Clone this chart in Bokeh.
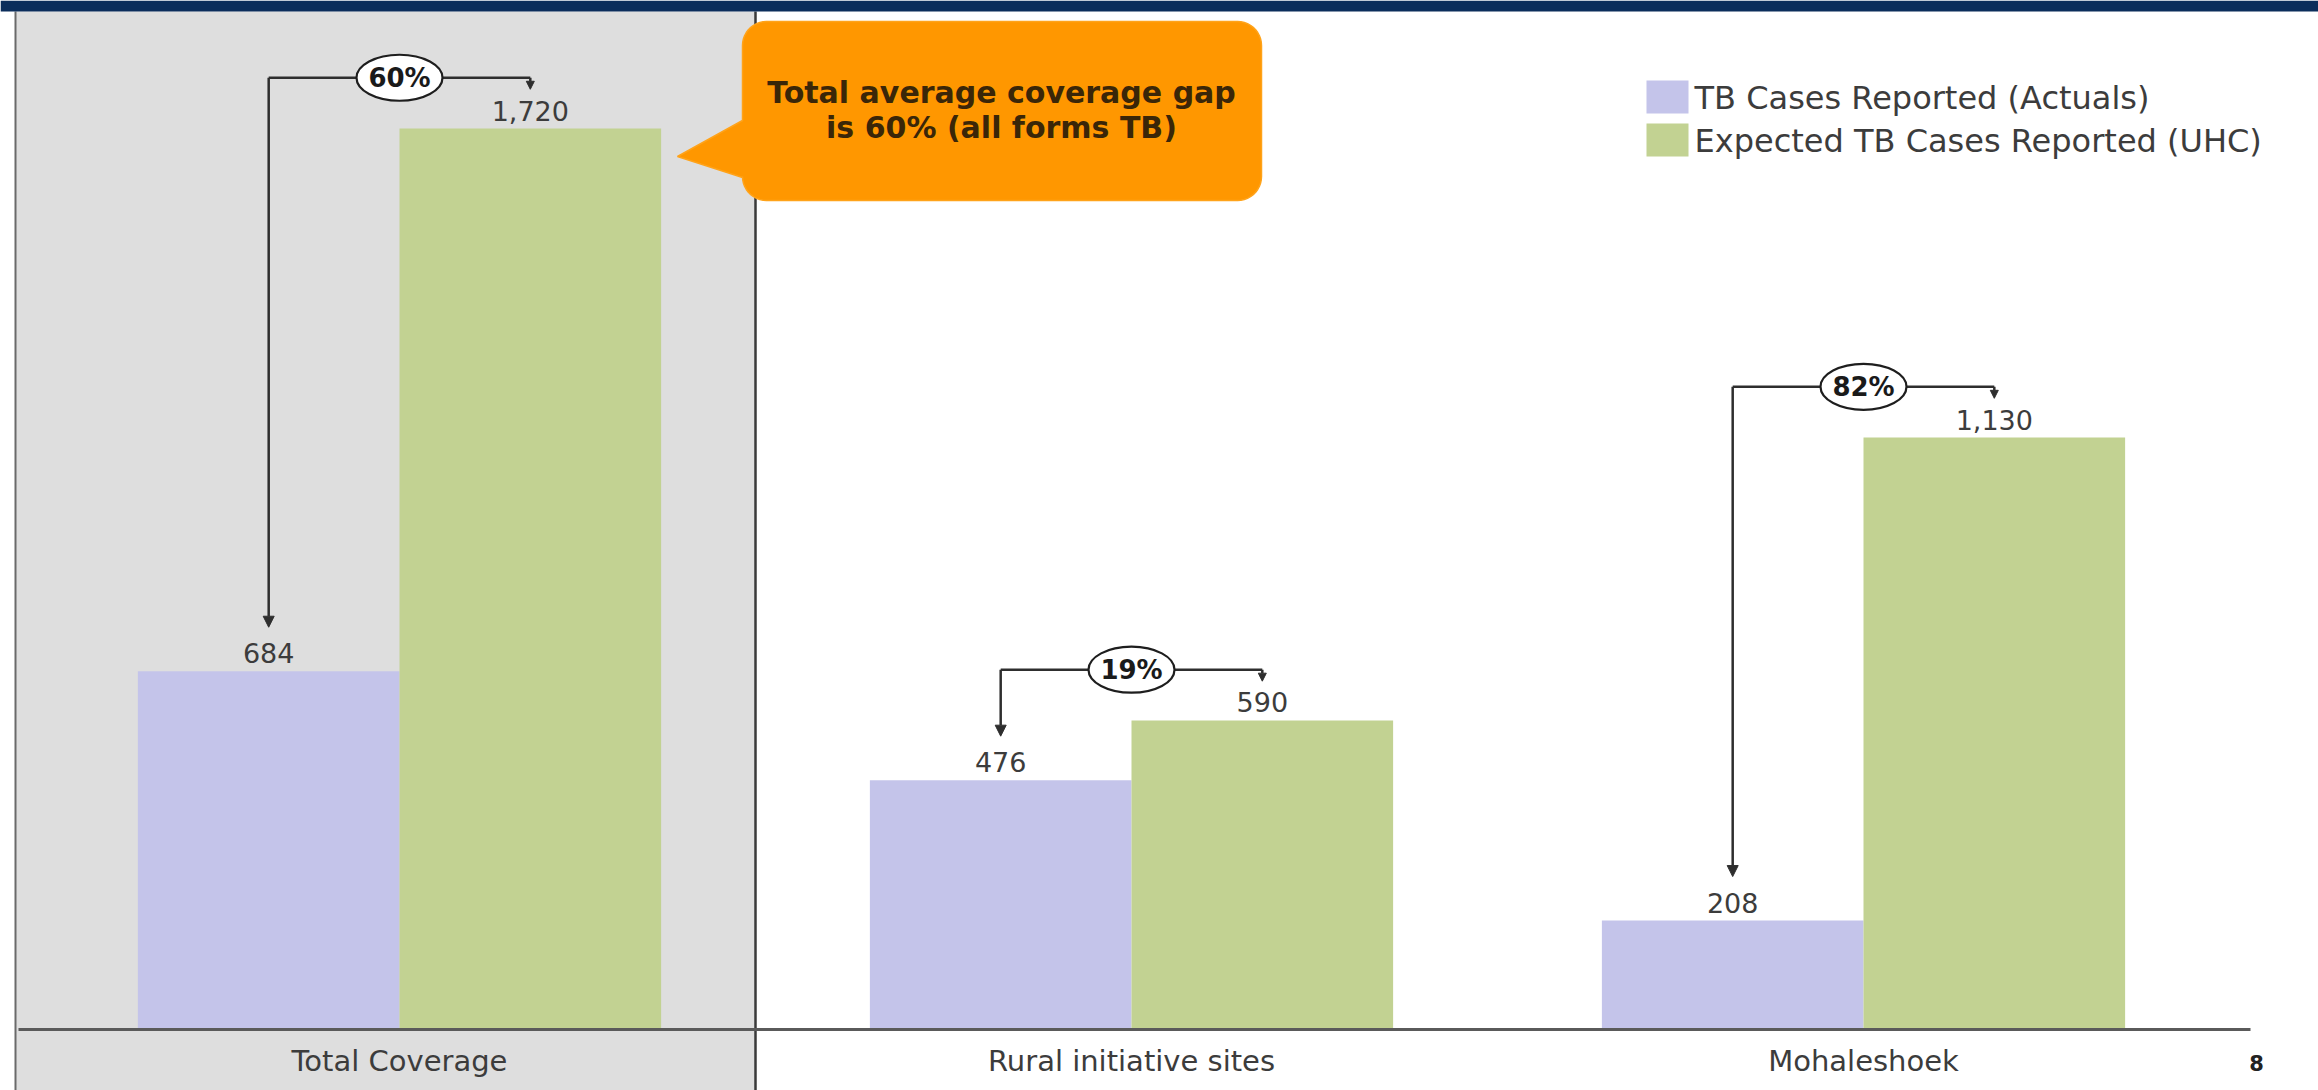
import numpy as np
from bokeh.plotting import figure
from bokeh.models import Range1d, ColumnDataSource, Arrow, NormalHead
from bokeh.core.properties import value
from bokeh.embed import file_html
from bokeh.resources import INLINE

# ---------------- data ----------------
categories = ["Total Coverage", "Rural initiative sites", "Mohaleshoek"]
actuals = [684, 476, 208]
expected = [1720, 590, 1130]
actual_labels = ["684", "476", "208"]
expected_labels = ["1,720", "590", "1,130"]
gap_labels = ["60%", "19%", "82%"]
series_names = ["TB Cases Reported (Actuals)", "Expected TB Cases Reported (UHC)"]
callout_lines = ["Total average coverage gap", "is 60% (all forms TB)"]
page_number = ["8"]

# ---------------- layout / style ----------------
W, H = 2318, 1090
PX_PER_CAT = 732.0        # pixels per category slot
FIRST_CENTER_PX = 399.0   # pixel column of first category centre
BASE_PX = 1029.0          # pixel row of the zero line
PX_PER_UNIT = 0.5238      # pixels per case
BAR_W = 0.3574            # bar width in category units

FONT = value("DejaVu Sans")
C_ACT = "#C4C4EA"
C_EXP = "#C2D292"
C_TEXT = "#3C3C3C"
C_LINE = "#2E2E2E"

x0 = 0.5 - FIRST_CENTER_PX / PX_PER_CAT
x1 = x0 + W / PX_PER_CAT
y0 = -(H - BASE_PX) / PX_PER_UNIT
y1 = BASE_PX / PX_PER_UNIT


def X(px):
    return x0 + np.asarray(px, dtype=float) / PX_PER_CAT


def Y(py):
    return (BASE_PX - np.asarray(py, dtype=float)) / PX_PER_UNIT


p = figure(width=W, height=H, x_range=Range1d(x0, x1), y_range=Range1d(y0, y1),
           x_axis_type=None, y_axis_type=None, toolbar_location=None,
           output_backend="svg", min_border=0, outline_line_color=None,
           background_fill_color="white", border_fill_color="white")

idx = np.arange(len(categories))
centers = idx + 0.5
act_x = centers - BAR_W / 2
exp_x = centers + BAR_W / 2

# highlighted panel around "Total Coverage"
p.quad(left=[X(15)], right=[X(755)], top=[Y(11)], bottom=[Y(H)],
       fill_color="#DEDEDE", line_color=None)
p.segment(x0=[X(15)], y0=[Y(11)], x1=[X(15)], y1=[Y(H)], line_color="#6A6A6A", line_width=2)
p.segment(x0=[X(755)], y0=[Y(11)], x1=[X(755)], y1=[Y(H)], line_color="#3A3A3A", line_width=2.5)

# bars
src = ColumnDataSource(dict(cat=categories, act_x=act_x, exp_x=exp_x,
                            act=actuals, exp=expected,
                            act_lab=actual_labels, exp_lab=expected_labels,
                            ctr=centers, gap=gap_labels))
p.vbar(x="act_x", top="act", bottom=0, width=BAR_W, source=src,
       fill_color=C_ACT, line_color=None)
p.vbar(x="exp_x", top="exp", bottom=0, width=BAR_W, source=src,
       fill_color=C_EXP, line_color=None)

# baseline (category axis line)
p.segment(x0=[X(18)], y0=[0], x1=[X(2250)], y1=[0], line_color="#5A5A5A", line_width=3)

# value labels
p.text(x="act_x", y="act", text="act_lab", source=src, y_offset=-8,
       text_align="center", text_baseline="bottom", text_font=FONT,
       text_font_size=value("27px"), text_color=C_TEXT)
p.text(x="exp_x", y="exp", text="exp_lab", source=src, y_offset=-8,
       text_align="center", text_baseline="bottom", text_font=FONT,
       text_font_size=value("27px"), text_color=C_TEXT)

# category labels
p.text(x="ctr", y=Y(1060), text="cat", source=src, text_align="center",
       text_baseline="middle", text_font=FONT, text_font_size=value("29px"),
       text_color=C_TEXT)

# gap brackets
BR_UP = 97.0      # bracket height above expected bar (cases)
TIP_UP = 84.0     # arrow tip above actual bar (cases)
TICK = 22.0       # short tick on expected side (cases)
br_y = np.array(expected, dtype=float) + BR_UP
brk = ColumnDataSource(dict(ax=act_x, ex=exp_x, by=br_y,
                            tip=np.array(actuals, dtype=float) + TIP_UP,
                            tick=br_y - TICK, ctr=centers, gap=gap_labels))
p.segment(x0="ax", y0="by", x1="ex", y1="by", source=brk, line_color=C_LINE, line_width=2.5)
p.add_layout(Arrow(end=NormalHead(size=11, fill_color=C_LINE, line_color=C_LINE),
                   x_start="ax", y_start="by", x_end="ax", y_end="tip", source=brk,
                   line_color=C_LINE, line_width=2.5))
p.add_layout(Arrow(end=NormalHead(size=8, fill_color=C_LINE, line_color=C_LINE),
                   x_start="ex", y_start="by", x_end="ex", y_end="tick", source=brk,
                   line_color=C_LINE, line_width=2.5))
p.ellipse(x="ctr", y="by", width=86, height=46, width_units="screen",
          height_units="screen", source=brk, fill_color="white",
          line_color="#1E1E1E", line_width=2.2)
p.text(x="ctr", y="by", text="gap", source=brk, text_align="center",
       text_baseline="middle", text_font=FONT, text_font_style="bold",
       text_font_size=value("26px"), text_color="#1A1A1A")

# orange callout
L, R, T, B, r = 742.0, 1261.0, 21.0, 200.0, 24.0


def arc(cx, cy, a0, a1):
    a = np.radians(np.linspace(a0, a1, 12))
    return list(cx + r * np.cos(a)), list(cy + r * np.sin(a))


xs, ys = [], []
for (cx, cy, a0, a1) in [(R - r, T + r, -90, 0), (R - r, B - r, 0, 90),
                         (L + r, B - r, 90, 180)]:
    ax_, ay_ = arc(cx, cy, a0, a1)
    xs += ax_
    ys += ay_
xs += [L, 677.0, L]
ys += [177.0, 156.0, 120.0]
ax_, ay_ = arc(L + r, T + r, 180, 270)
xs += ax_
ys += ay_
p.patch(x=X(xs), y=Y(ys), fill_color="#FF9700", line_color="#FFA31A", line_width=1.5)
p.text(x=X([1001, 1001]), y=Y([92, 127]), text=callout_lines, text_align="center",
       text_baseline="middle", text_font=FONT, text_font_style="bold",
       text_font_size=value("30px"), text_color="#3A2608")

# legend
p.quad(left=X([1646, 1646]), right=X([1688, 1688]), top=Y([80, 123]),
       bottom=Y([113, 156]), fill_color=[C_ACT, C_EXP], line_color=None)
p.text(x=X([1694, 1694]), y=Y([97, 140]), text=series_names, text_align="left",
       text_baseline="middle", text_font=FONT, text_font_size=value("32px"),
       text_color=C_TEXT)

# page number
p.text(x=X([2256]), y=Y([1062]), text=page_number, text_align="center",
       text_baseline="middle", text_font=FONT, text_font_style="bold",
       text_font_size=value("21px"), text_color="#222222")

# top banner
p.quad(left=[X(0)], right=[X(W)], top=[Y(0)], bottom=[Y(11)],
       fill_color="#0B2D5B", line_color=None)

open("out.html", "w").write(file_html(p, INLINE))
